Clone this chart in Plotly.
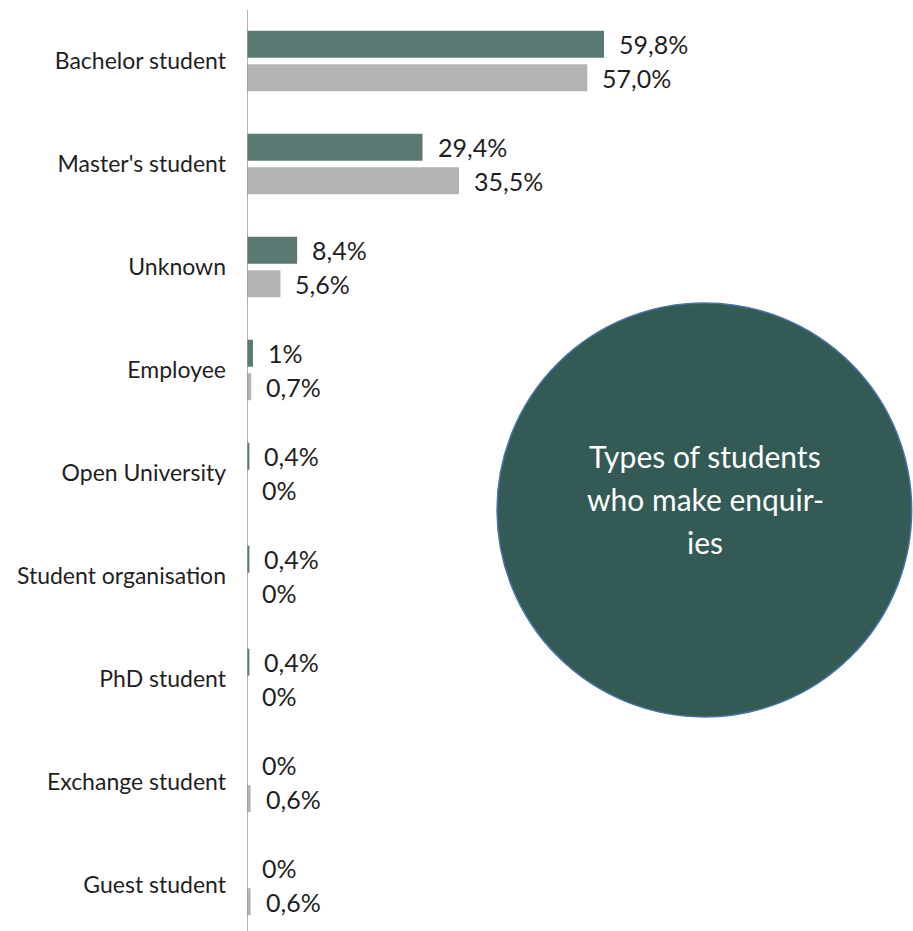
import plotly.graph_objects as go

# Enquiry share by type of student, two periods
categories = [
    "Bachelor student", "Master's student", "Unknown", "Employee",
    "Open University", "Student organisation", "PhD student",
    "Exchange student", "Guest student",
]
series_a = [59.8, 29.4, 8.4, 1.0, 0.4, 0.4, 0.4, 0.0, 0.0]
series_b = [57.0, 35.5, 5.6, 0.7, 0.0, 0.0, 0.0, 0.6, 0.6]
labels_a = ["59,8%", "29,4%", "8,4%", "1%", "0,4%", "0,4%", "0,4%", "0%", "0%"]
labels_b = ["57,0%", "35,5%", "5,6%", "0,7%", "0%", "0%", "0%", "0,6%", "0,6%"]

DARK = "#5a7a73"
GREY = "#b3b3b3"
FONT = "Lato"
TEXT = "#1f1f1f"

W, H = 913, 931
ML, MT = 247, 10

pos = list(range(len(categories)))
bar_w = 0.262
shift = 0.1625

fig = go.Figure()
fig.add_trace(go.Bar(
    y=pos, x=series_a, orientation="h", width=bar_w,
    offset=-shift - bar_w / 2, marker=dict(color=DARK, line=dict(width=0)),
    hoverinfo="skip",
))
fig.add_trace(go.Bar(
    y=pos, x=series_b, orientation="h", width=bar_w,
    offset=shift - bar_w / 2, marker=dict(color=GREY, line=dict(width=0)),
    hoverinfo="skip",
))

# value labels just beyond each bar end
for i in pos:
    fig.add_annotation(x=series_a[i], y=i - shift, text=labels_a[i],
                       xanchor="left", yanchor="middle", xshift=13,
                       showarrow=False, font=dict(family=FONT, size=25, color=TEXT))
    fig.add_annotation(x=series_b[i], y=i + shift, text=labels_b[i],
                       xanchor="left", yanchor="middle", xshift=13,
                       showarrow=False, font=dict(family=FONT, size=25, color=TEXT))

# title bubble
fig.add_shape(type="circle", xref="paper", yref="paper",
              x0=0.3754, x1=0.998, y0=0.2324, y1=0.682,
              fillcolor="#335a55", line=dict(color="#4a74a8", width=1.5), layer="above")
title_lines = ["Types of students", "who make enquir-", "ies"]
for k, line in enumerate(title_lines):
    fig.add_annotation(xref="paper", yref="paper", x=0.6877,
                       y=(H - 456 - k * 43) / (H - MT),
                       text=line, showarrow=False, xanchor="center", yanchor="middle",
                       font=dict(family=FONT, size=30, color="white"))

fig.update_layout(
    width=W, height=H,
    margin=dict(l=ML, r=0, t=MT, b=0),
    paper_bgcolor="white", plot_bgcolor="white",
    showlegend=False,
    font=dict(family=FONT, size=23, color=TEXT),
    xaxis=dict(range=[0, 111.56], visible=False, fixedrange=True),
    yaxis=dict(
        range=[8.447, -0.495], tickmode="array", tickvals=pos, ticktext=categories,
        showgrid=False, zeroline=False, showline=False, ticks="",
        ticklabelstandoff=20, tickfont=dict(family=FONT, size=23, color=TEXT),
    ),
)
# vertical axis line at zero
fig.add_shape(type="line", xref="x", yref="paper", x0=0, x1=0, y0=0, y1=1,
              line=dict(color="#9a9a9a", width=1.5), layer="above")

fig.write_html("out.html")
